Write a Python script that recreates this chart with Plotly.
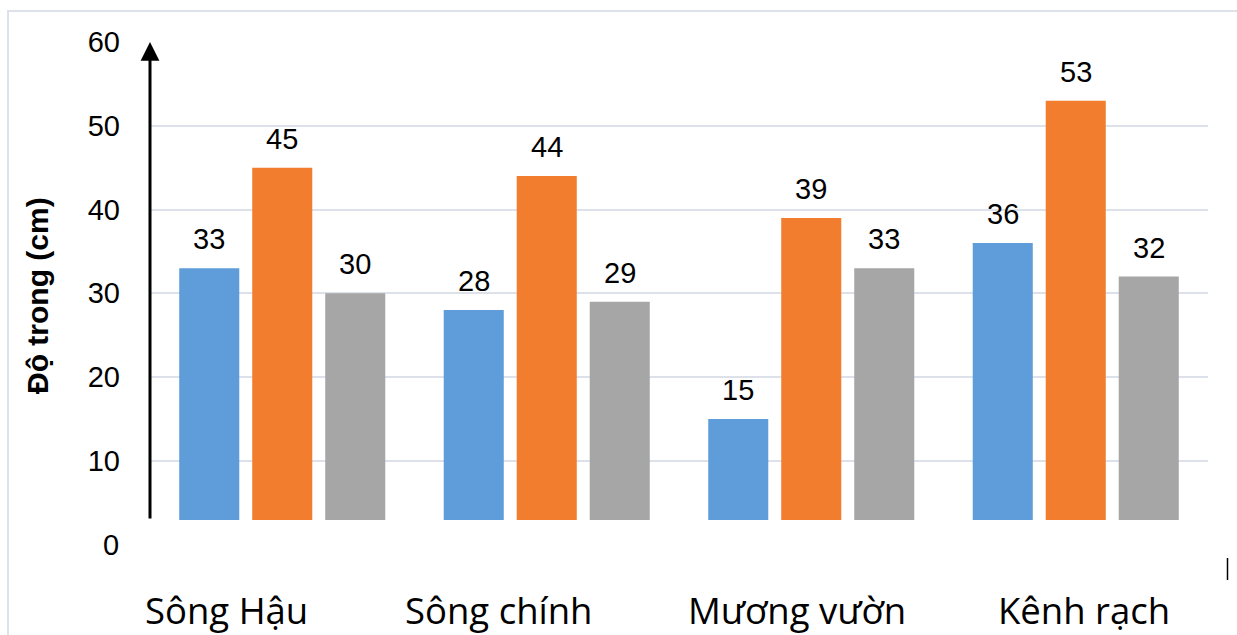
import plotly.graph_objects as go

# --- data -------------------------------------------------------------
categories = ["Sông Hậu", "Sông chính", "Mương vườn", "Kênh rạch"]
series_a = [33, 28, 15, 36]
series_b = [45, 44, 39, 53]
series_c = [30, 29, 33, 32]
y_ticks = [0, 10, 20, 30, 40, 50, 60]
y_title = "Độ trong (cm)"

# --- layout geometry (pixels) -----------------------------------------
W, H = 1237, 635
ML, MR, MT, MB = 150, 29, 42, 115
PW, PH = W - ML - MR, H - MT - MB

Y_LO, Y_HI = 2.93, 60.0          # value axis crosses a little above zero
BAR_W = 0.227                     # bar width in category units
BAR_STEP = 0.276                  # distance between bars inside a group
label_shift_px = [-56, -48, -14, 8]   # category captions sit slightly off-centre

colors = ["#5E9DD9", "#F27D2E", "#A6A6A6"]
grid_col = "#DDE2EA"
num_font = dict(family="Liberation Sans, Arial, sans-serif", size=29, color="#000000")
cat_font = dict(family="Open Sans, sans-serif", size=36.5, color="#000000")


def px_x(px):
    return (px - ML) / PW


def px_y(py):
    return (MT + PH - py) / PH


fig = go.Figure()
series = [series_a, series_b, series_c]
idx = list(range(len(categories)))
annotations = []
for k, vals in enumerate(series):
    xs = [i + (k - 1) * BAR_STEP for i in idx]
    fig.add_trace(go.Bar(
        x=xs, y=vals, width=BAR_W,
        marker=dict(color=colors[k], line=dict(width=0)),
        hoverinfo="skip", showlegend=False,
    ))
    for x, v in zip(xs, vals):
        annotations.append(dict(
            x=x, y=v, xref="x", yref="y", text=str(v), showarrow=False,
            yanchor="bottom", yshift=11, font=num_font,
        ))

# category captions under the groups
for i, (name, sh) in enumerate(zip(categories, label_shift_px)):
    annotations.append(dict(
        x=i, xref="x", y=px_y(610), yref="paper", text=name, showarrow=False,
        xshift=sh, yanchor="middle", font=cat_font,
    ))

# the zero label lies below the axis crossing
annotations.append(dict(
    x=0, xref="paper", y=(y_ticks[0] - Y_LO) / (Y_HI - Y_LO), yref="paper",
    text=str(y_ticks[0]), showarrow=False, xanchor="right", xshift=-29,
    yanchor="middle", font=num_font,
))

# axis title
annotations.append(dict(
    x=px_x(37), xref="paper", y=px_y(296), yref="paper", text=f"<b>{y_title}</b>",
    textangle=-90, showarrow=False, xanchor="center", yanchor="middle",
    font=dict(family="Liberation Sans, Arial, sans-serif", size=30, color="#000000"),
))

# vertical axis drawn as an arrow
annotations.append(dict(
    x=-0.5, y=Y_HI, xref="x", yref="y", ax=-0.5, ay=Y_LO, axref="x", ayref="y",
    showarrow=True, arrowhead=2, arrowsize=1.25, arrowwidth=3, arrowcolor="#000000",
    text="", standoff=0,
))

shapes = [
    # outer chart frame
    dict(type="rect", xref="paper", yref="paper",
         x0=px_x(8), x1=px_x(W + 20), y0=px_y(H + 20), y1=px_y(11),
         line=dict(color=grid_col, width=2), fillcolor="rgba(0,0,0,0)", layer="below"),
    # small caret mark at the right edge
    dict(type="line", xref="paper", yref="paper",
         x0=px_x(1227.5), x1=px_x(1227.5), y0=px_y(580), y1=px_y(558),
         line=dict(color="#000000", width=1.5)),
]

fig.update_layout(
    width=W, height=H,
    margin=dict(l=ML, r=MR, t=MT, b=MB, pad=0),
    paper_bgcolor="#FFFFFF", plot_bgcolor="#FFFFFF",
    barmode="overlay",
    xaxis=dict(range=[-0.5, len(categories) - 0.5], showticklabels=False,
               showgrid=False, zeroline=False, showline=False, ticks=""),
    yaxis=dict(range=[Y_LO, Y_HI], tickvals=y_ticks[1:],
               ticktext=[str(v) for v in y_ticks[1:]],
               showgrid=True, gridcolor=grid_col, gridwidth=1.5,
               zeroline=False, showline=False, ticks="",
               ticklabelstandoff=29, tickfont=num_font),
    annotations=annotations,
    shapes=shapes,
    font=num_font,
)

fig.write_html("out.html")
